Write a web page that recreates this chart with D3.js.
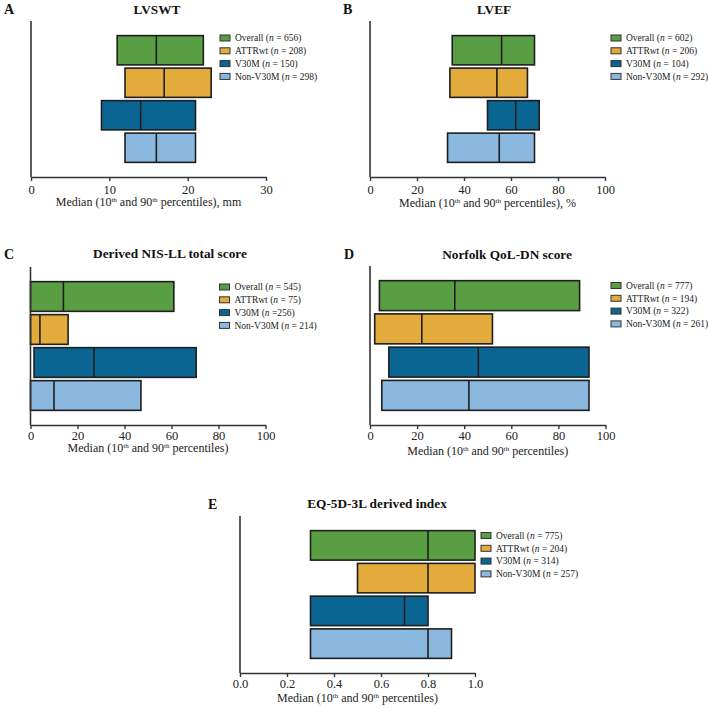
<!DOCTYPE html>
<html><head><meta charset="utf-8">
<script src="https://cdn.jsdelivr.net/npm/d3@7"></script>
<style>body{margin:0;background:#fff}svg{display:block}text{font-family:"Liberation Serif","Times New Roman","DejaVu Serif",serif}</style>
</head><body>
<svg id="c" width="708" height="708"></svg>
<script>
const groups = ["Overall", "ATTRwt", "V30M", "Non-V30M"];
const colors = ["#5a9e44", "#e3ab3c", "#0b6592", "#8ab8de"];

const lvswtLow = [11, 12, 9, 12];
const lvswtMed = [16, 17, 14, 16];
const lvswtHigh = [22, 23, 21, 21];
const lvswtN = ["656", "208", "150", "298"];

const lvefLow = [35, 34, 50, 33];
const lvefMed = [56, 54, 62, 55];
const lvefHigh = [70, 67, 72, 70];
const lvefN = ["602", "206", "104", "292"];

const nisLow = [0, 0, 1.5, 0];
const nisMed = [14, 4, 27, 10];
const nisHigh = [61, 16, 70.5, 47];
const nisN = ["= 545", "= 75", "=256", "= 214"];

const qolLow = [4, 2, 8, 5];
const qolMed = [36, 22, 46, 42];
const qolHigh = [89, 52, 93, 93];
const qolN = ["777", "194", "322", "261"];

const eqLow = [0.3, 0.5, 0.3, 0.3];
const eqMed = [0.8, 0.8, 0.7, 0.8];
const eqHigh = [1.0, 1.0, 0.8, 0.9];
const eqN = ["775", "204", "314", "257"];

const ticksA = [0, 10, 20, 30];
const ticks100 = [0, 20, 40, 60, 80, 100];
const ticksE = [0.0, 0.2, 0.4, 0.6, 0.8, 1.0];

const panels = [
  {letter:"A", title:"LVSWT", low:lvswtLow, med:lvswtMed, high:lvswtHigh, n:lvswtN.map(d=>"= "+d), ticks:ticksA, max:30, fmt:d3.format("d"), unit:", mm",
   x0:31, x1:266, yTop:21, yBot:177, titleX:157, titleY:13.5, letterX:4, letterY:14, legX:220, legY:38, tickY:193.5, labY:206},
  {letter:"B", title:"LVEF", low:lvefLow, med:lvefMed, high:lvefHigh, n:lvefN.map(d=>"= "+d), ticks:ticks100, max:100, fmt:d3.format("d"), unit:", %",
   x0:370, x1:605, yTop:21, yBot:177, titleX:494, titleY:13.5, letterX:343, letterY:14, legX:611, legY:38, tickY:193.5, labY:206.5},
  {letter:"C", title:"Derived NIS-LL total score", low:nisLow, med:nisMed, high:nisHigh, n:nisN, ticks:ticks100, max:100, fmt:d3.format("d"), unit:"",
   x0:30.5, x1:265.5, yTop:267, yBot:425, titleX:170, titleY:258.3, letterX:4, letterY:258.5, legX:219.5, legY:287, tickY:439.5, labY:452},
  {letter:"D", title:"Norfolk QoL-DN score", low:qolLow, med:qolMed, high:qolHigh, n:qolN.map(d=>"= "+d), ticks:ticks100, max:100, fmt:d3.format("d"), unit:"",
   x0:370, x1:605.5, yTop:266, yBot:425, titleX:507, titleY:259, letterX:344, letterY:258.5, legX:611, legY:285.5, tickY:439.5, labY:454.5},
  {letter:"E", title:"EQ-5D-3L derived index", low:eqLow, med:eqMed, high:eqHigh, n:eqN.map(d=>"= "+d), ticks:ticksE, max:1, fmt:d3.format(".1f"), unit:"",
   x0:240, x1:475, yTop:516, yBot:673, titleX:377, titleY:507.5, letterX:208, letterY:508.5, legX:481, legY:535.5, tickY:688, labY:701.5}
];

const svg = d3.select("#c");
const serif = "\"Liberation Serif\", \"Times New Roman\", \"DejaVu Serif\", serif";
const axisColor = "#333";

panels.forEach(p => {
  const g = svg.append("g");
  const x = d3.scaleLinear().domain([0, p.max]).range([p.x0, p.x1]);
  const y = d3.scaleBand().domain(groups)
    .range([p.yTop + 13, p.yBot - 13]).paddingInner(0.1).paddingOuter(0.05);

  groups.forEach((gname, i) => {
    const yy = y(gname), h = y.bandwidth();
    g.append("rect")
      .attr("x", x(p.low[i])).attr("y", yy)
      .attr("width", x(p.high[i]) - x(p.low[i])).attr("height", h)
      .attr("fill", colors[i]).attr("stroke", "#1e1e1e").attr("stroke-width", 1.6);
    g.append("line")
      .attr("x1", x(p.med[i])).attr("x2", x(p.med[i]))
      .attr("y1", yy).attr("y2", yy + h)
      .attr("stroke", "#1e1e1e").attr("stroke-width", 1.6);
  });

  g.append("line").attr("x1", p.x0).attr("x2", p.x0).attr("y1", p.yTop).attr("y2", p.yBot)
    .attr("stroke", axisColor).attr("stroke-width", 1.6);

  const ax = g.append("g").attr("transform", `translate(0,${p.yBot})`)
    .call(d3.axisBottom(x).tickValues(p.ticks).tickFormat(p.fmt).tickSize(4).tickSizeOuter(0));
  ax.attr("font-family", null).attr("font-size", null);
  ax.select(".domain").attr("stroke", axisColor).attr("stroke-width", 1.6);
  ax.selectAll(".tick line").attr("stroke", axisColor).attr("stroke-width", 1.4);
  ax.selectAll(".tick text").style("font-family", serif).style("font-size", "12.5px")
    .attr("fill", "#222").attr("dy", null).attr("y", p.tickY - p.yBot);

  const t = g.append("text").attr("x", (p.x0 + p.x1) / 2).attr("y", p.labY)
    .attr("text-anchor", "middle").style("font-family", serif).style("font-size", "12px").attr("fill", "#222");
  t.append("tspan").text("Median (10");
  t.append("tspan").text("th").style("font-size", "7px").attr("dy", -4);
  t.append("tspan").text(" and 90").attr("dy", 4);
  t.append("tspan").text("th").style("font-size", "7px").attr("dy", -4);
  t.append("tspan").text(" percentiles)" + p.unit).attr("dy", 4);

  g.append("text").attr("x", p.titleX).attr("y", p.titleY).attr("text-anchor", "middle")
    .style("font-family", serif).style("font-weight", "bold").style("font-size", "13.3px").attr("fill", "#111")
    .text(p.title);
  g.append("text").attr("x", p.letterX).attr("y", p.letterY)
    .style("font-family", serif).style("font-weight", "bold").style("font-size", "14px").attr("fill", "#111")
    .text(p.letter);

  groups.forEach((gname, i) => {
    const ly = p.legY + i * 12.8;
    g.append("rect").attr("x", p.legX).attr("y", ly - 3).attr("width", 10).attr("height", 6)
      .attr("fill", colors[i]).attr("stroke", "#333").attr("stroke-width", 1);
    const lt = g.append("text").attr("x", p.legX + 15).attr("y", ly + 3.3)
      .style("font-family", serif).style("font-size", "9.5px").attr("fill", "#222");
    lt.append("tspan").text(gname + " (");
    lt.append("tspan").text("n").style("font-style", "italic");
    lt.append("tspan").text(" " + p.n[i] + ")");
  });
});
</script>
</body></html>
